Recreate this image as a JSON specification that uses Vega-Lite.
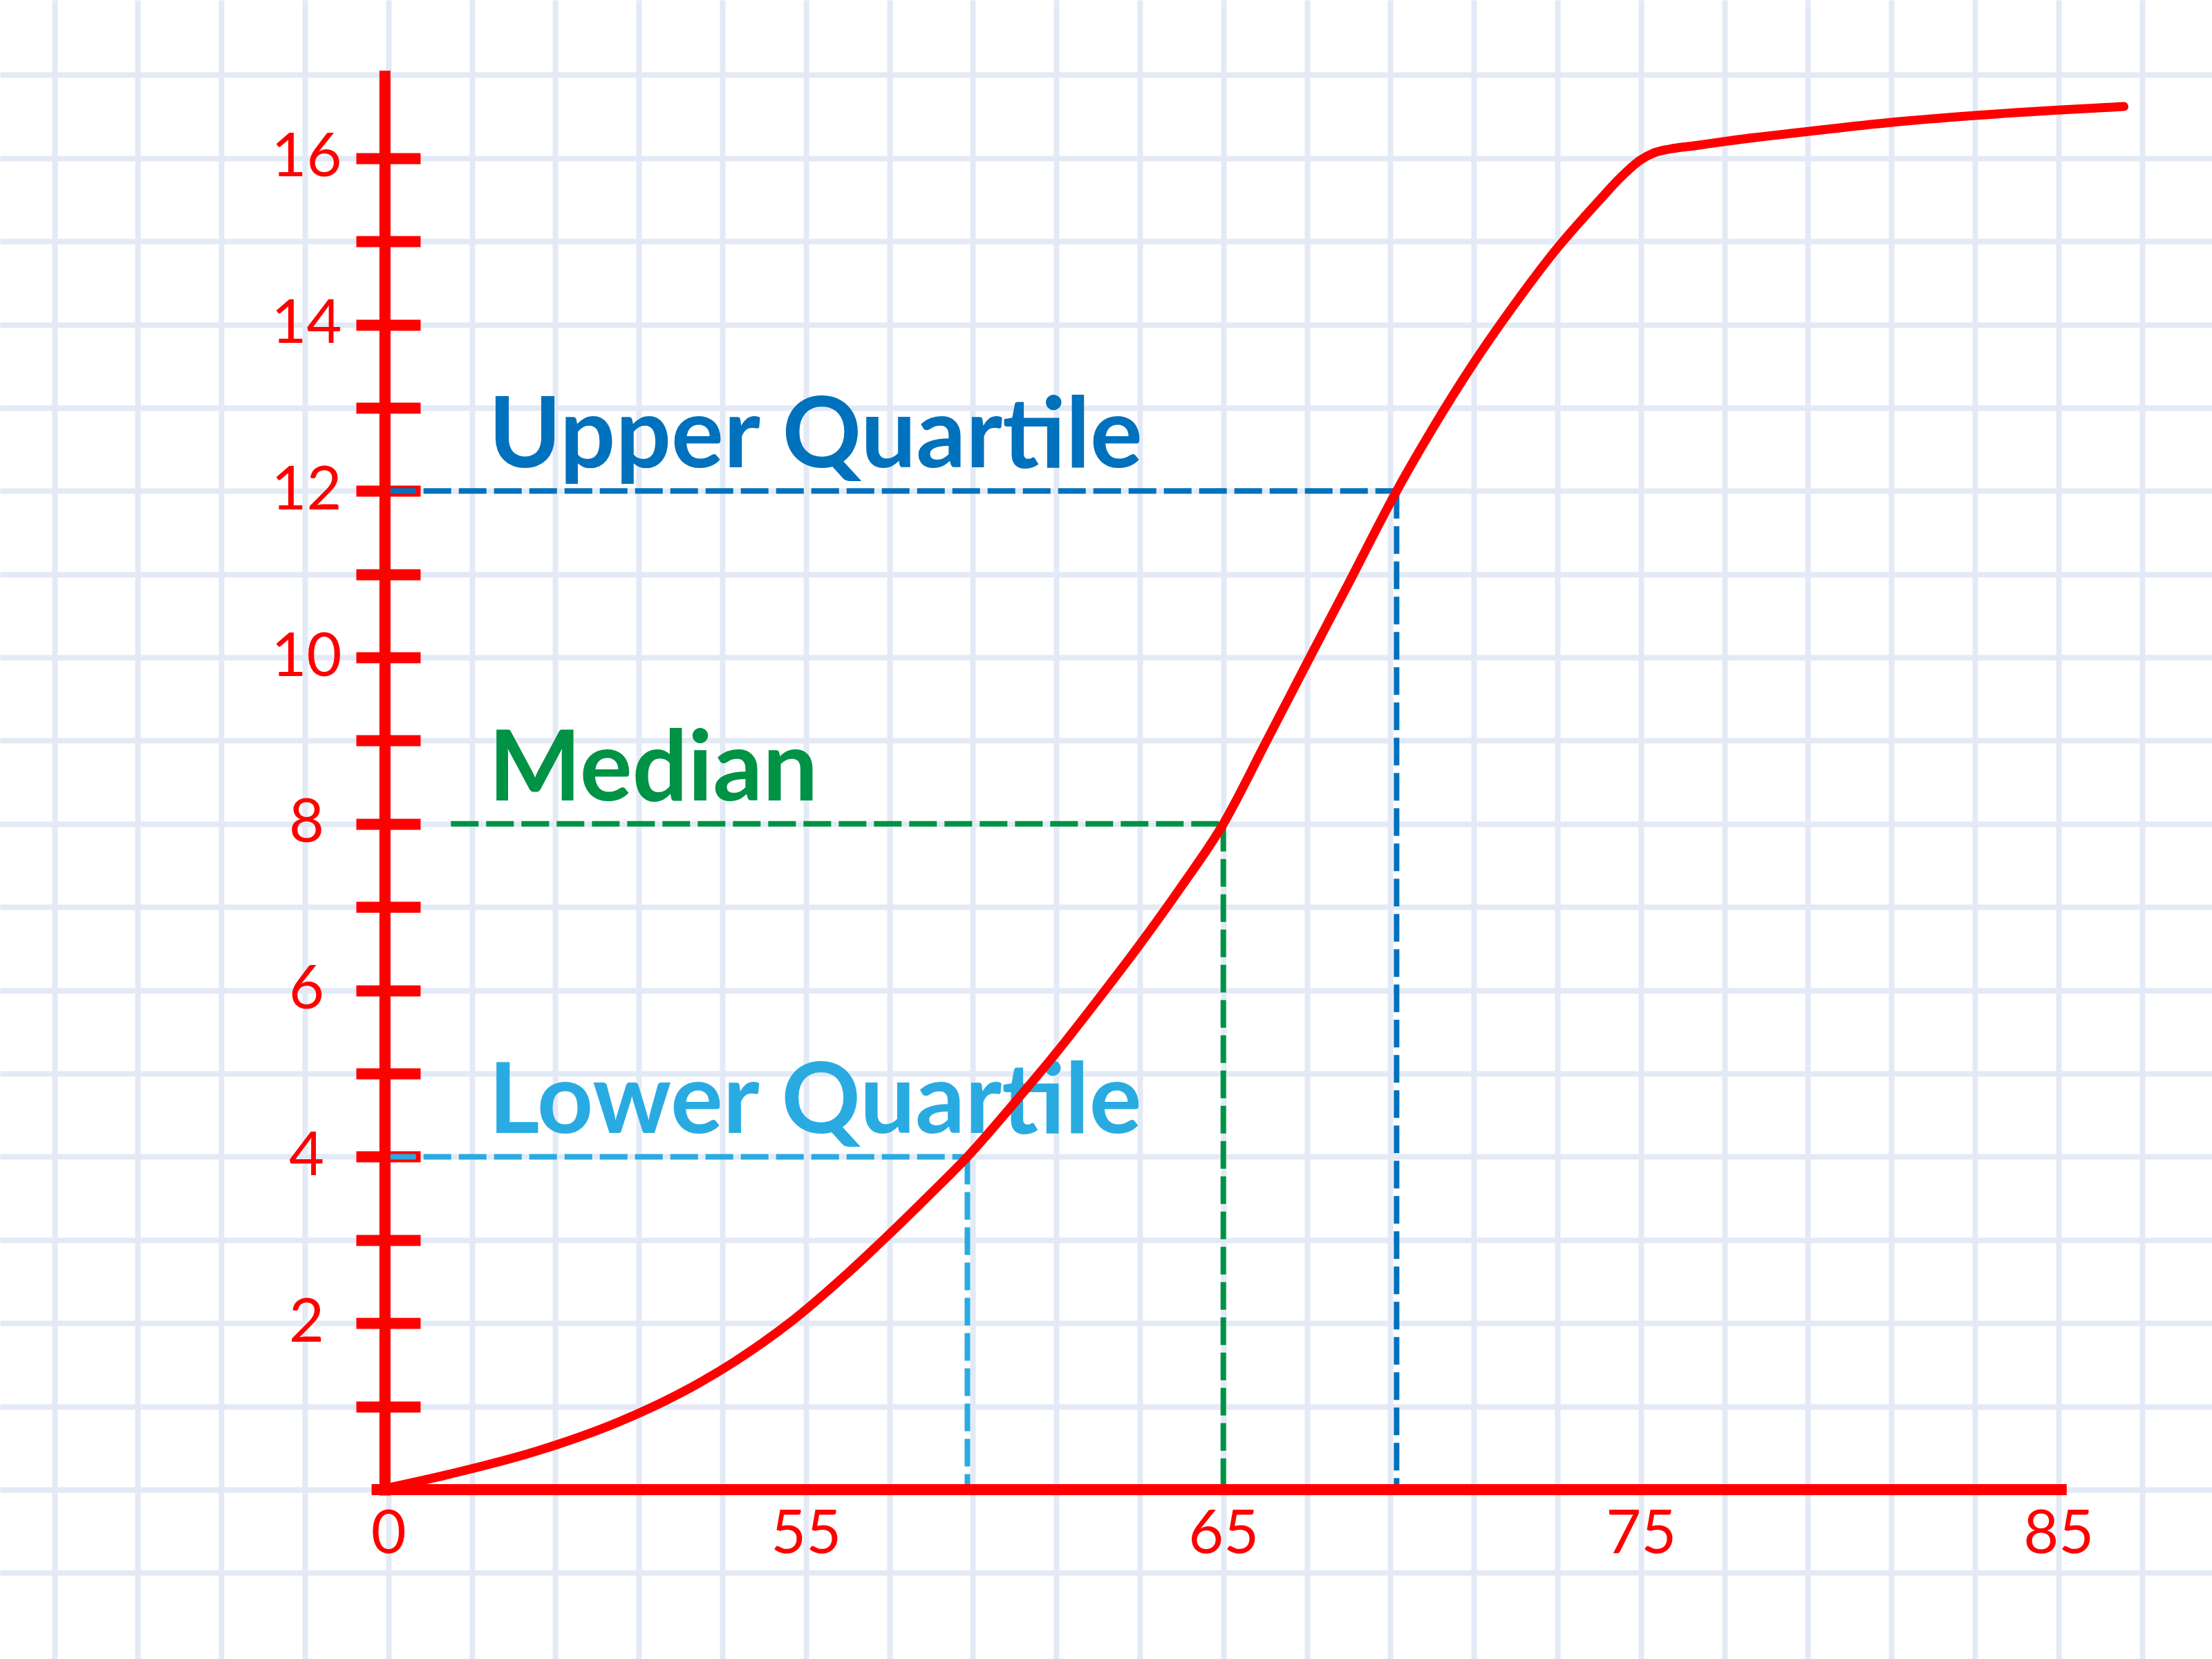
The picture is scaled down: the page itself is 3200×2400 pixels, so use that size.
{
  "$schema": "https://vega.github.io/schema/vega-lite/v6.json",
  "width": 3200,
  "height": 2400,
  "autosize": {"type": "none"},
  "padding": 0,
  "background": "#ffffff",
  "config": {"view": {"stroke": null}},
  "datasets": {
    "curve": [
      {"x": 44.8, "cf": 0}, {"x": 46.5, "cf": 0.19}, {"x": 48.6, "cf": 0.47}, {"x": 50.5, "cf": 0.81},
      {"x": 52.0, "cf": 1.16}, {"x": 53.3, "cf": 1.54}, {"x": 54.6, "cf": 2.0}, {"x": 56.0, "cf": 2.6},
      {"x": 57.0, "cf": 3.07}, {"x": 58.0, "cf": 3.56}, {"x": 58.87, "cf": 4.0}, {"x": 60.0, "cf": 4.65},
      {"x": 61.0, "cf": 5.25}, {"x": 62.0, "cf": 5.89}, {"x": 63.0, "cf": 6.55}, {"x": 64.0, "cf": 7.25},
      {"x": 65.0, "cf": 8.0}, {"x": 66.0, "cf": 8.96}, {"x": 67.0, "cf": 9.93}, {"x": 68.0, "cf": 10.89},
      {"x": 69.15, "cf": 12.0}, {"x": 70.0, "cf": 12.74}, {"x": 71.0, "cf": 13.54}, {"x": 72.0, "cf": 14.26},
      {"x": 73.0, "cf": 14.92}, {"x": 74.0, "cf": 15.49}, {"x": 74.5, "cf": 15.76}, {"x": 75.0, "cf": 15.98},
      {"x": 75.3, "cf": 16.06}, {"x": 75.7, "cf": 16.11}, {"x": 76.3, "cf": 16.15}, {"x": 77.15, "cf": 16.21},
      {"x": 79.0, "cf": 16.32}, {"x": 81.0, "cf": 16.43}, {"x": 83.5, "cf": 16.53}, {"x": 86.57, "cf": 16.62}
    ],
    "quartiles": [
      {"measure": "Lower Quartile", "value": 58.87, "cf": 4, "start": 45, "base": 0},
      {"measure": "Median", "value": 65, "cf": 8, "start": 46.5, "base": 0},
      {"measure": "Upper Quartile", "value": 69.15, "cf": 12, "start": 45, "base": 0}
    ]
  },
  "layer": [
    {
      "data": {"name": "curve"},
      "mark": {"type": "line", "opacity": 0},
      "encoding": {
        "x": {
          "field": "x", "type": "quantitative",
          "scale": {"domain": [35.7, 88.68], "nice": false, "zero": false},
          "axis": {
            "orient": "bottom", "offset": -245, "title": null, "format": "d",
            "values": [37,39,41,43,45,47,49,51,53,55,57,59,61,63,65,67,69,71,73,75,77,79,81,83,85,87],
            "domain": false, "ticks": false, "tickSize": 0,
            "labelExpr": "datum.value == 45 ? '0' : ((datum.value >= 55 && datum.value % 10 == 5) ? datum.label : '')",
            "labelPadding": 65, "labelBaseline": "middle", "labelAlign": "center",
            "labelFont": "Lato", "labelFontSize": 88, "labelColor": "#ff0000",
            "labelOverlap": false, "labelFlush": false,
            "grid": true, "gridColor": "#e3eaf6", "gridWidth": 8
          }
        },
        "y": {
          "field": "cf", "type": "quantitative",
          "scale": {"domain": [-2.035, 17.9], "nice": false, "zero": false},
          "axis": {
            "orient": "left", "offset": -608, "title": null, "format": "d",
            "values": [-1,0,1,2,3,4,5,6,7,8,9,10,11,12,13,14,15,16,17],
            "domain": false, "ticks": true, "tickSize": 93, "tickWidth": 16, "tickCap": "butt",
            "tickColor": {"condition": {"test": "datum.value < 1 || datum.value > 16", "value": "transparent"}, "value": "#ff0000"},
            "labelExpr": "(datum.value >= 2 && datum.value <= 16 && datum.value % 2 == 0) ? datum.label : ''",
            "labelPadding": 72, "labelAlign": "center", "labelBaseline": "middle",
            "labelFont": "Lato", "labelFontSize": 88, "labelColor": "#ff0000",
            "labelOverlap": false, "labelFlush": false,
            "grid": true, "gridColor": "#e3eaf6", "gridWidth": 8
          }
        }
      }
    },
    {
      "data": {"name": "quartiles"},
      "mark": {"type": "rule", "strokeWidth": 8, "strokeDash": [40, 11], "strokeCap": "butt"},
      "encoding": {
        "x": {"field": "value", "type": "quantitative"},
        "y": {"field": "cf", "type": "quantitative"},
        "y2": {"field": "base"},
        "color": {"field": "measure", "type": "nominal", "legend": null,
          "scale": {"domain": ["Lower Quartile", "Median", "Upper Quartile"], "range": ["#29abe2", "#009245", "#0071bc"]}}
      }
    },
    {
      "data": {"name": "quartiles"},
      "mark": {"type": "rule", "strokeWidth": 8, "strokeDash": [40, 11], "strokeCap": "butt"},
      "encoding": {
        "x": {"field": "start", "type": "quantitative"},
        "x2": {"field": "value"},
        "y": {"field": "cf", "type": "quantitative"},
        "color": {"field": "measure", "type": "nominal", "legend": null}
      }
    },
    {
      "data": {"name": "quartiles"},
      "mark": {"type": "text", "align": "left", "baseline": "alphabetic", "dy": -34, "font": "Lato", "fontSize": 142, "fontWeight": "bold"},
      "encoding": {
        "x": {"datum": 47.4, "type": "quantitative"},
        "y": {"field": "cf", "type": "quantitative"},
        "text": {"field": "measure", "type": "nominal"},
        "color": {"field": "measure", "type": "nominal", "legend": null}
      }
    },
    {
      "data": {"name": "curve"},
      "mark": {"type": "line", "color": "#ff0000", "strokeWidth": 13, "interpolate": "monotone", "strokeCap": "round"},
      "encoding": {
        "x": {"field": "x", "type": "quantitative"},
        "y": {"field": "cf", "type": "quantitative"}
      }
    },
    {
      "data": {"values": [{"x": 44.92, "y": -0.07, "y2": 17.05}]},
      "mark": {"type": "rule", "color": "#ff0000", "strokeWidth": 16, "strokeCap": "butt"},
      "encoding": {
        "x": {"field": "x", "type": "quantitative"},
        "y": {"field": "y", "type": "quantitative"},
        "y2": {"field": "y2"}
      }
    },
    {
      "data": {"values": [{"x": 44.6, "x2": 85.2, "y": 0}]},
      "mark": {"type": "rule", "color": "#ff0000", "strokeWidth": 16, "strokeCap": "butt"},
      "encoding": {
        "x": {"field": "x", "type": "quantitative"},
        "x2": {"field": "x2"},
        "y": {"field": "y", "type": "quantitative"}
      }
    }
  ]
}
